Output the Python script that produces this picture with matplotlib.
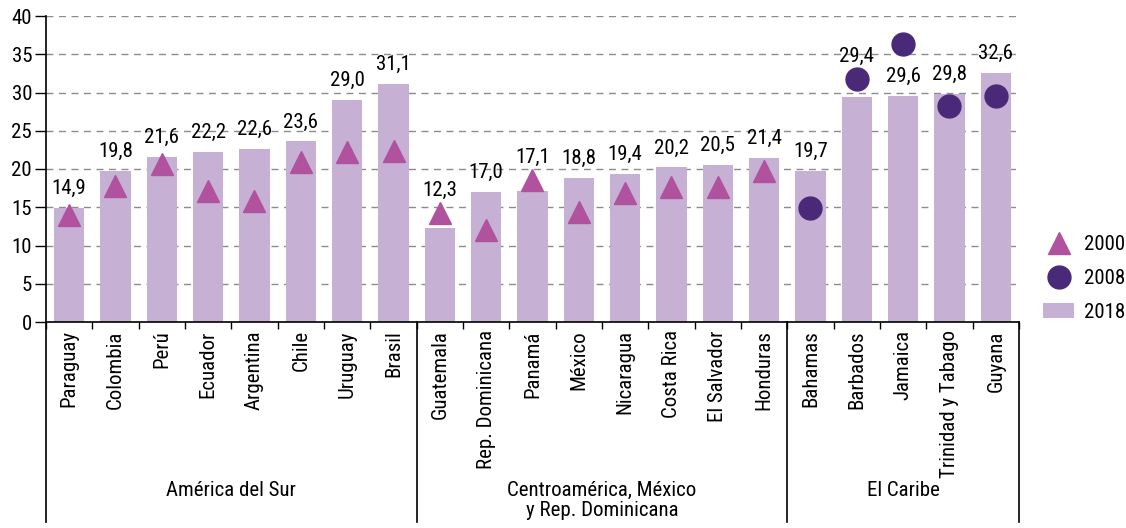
import matplotlib.pyplot as plt
from matplotlib.lines import Line2D
from matplotlib.patches import Patch
import matplotlib.transforms as mtransforms
import numpy as np

plt.rcParams['font.family'] = ['Roboto Condensed', 'Liberation Sans Narrow', 'Roboto', 'DejaVu Sans']

# Datos
paises = ["Paraguay", "Colombia", "Perú", "Ecuador", "Argentina", "Chile", "Uruguay", "Brasil",
          "Guatemala", "Rep. Dominicana", "Panamá", "México", "Nicaragua", "Costa Rica",
          "El Salvador", "Honduras",
          "Bahamas", "Barbados", "Jamaica", "Trinidad y Tabago", "Guyana"]
valores_2018 = [14.9, 19.8, 21.6, 22.2, 22.6, 23.6, 29.0, 31.1,
                12.3, 17.0, 17.1, 18.8, 19.4, 20.2, 20.5, 21.4,
                19.7, 29.4, 29.6, 29.8, 32.6]
# 2000 solo para América del Sur y Centroamérica
valores_2000 = [14.0, 17.8, 20.7, 17.1, 15.8, 20.9, 22.2, 22.4,
                14.2, 12.0, 18.5, 14.4, 16.9, 17.6, 17.6, 19.8,
                None, None, None, None, None]
# 2008 solo para El Caribe
valores_2008 = [None] * 16 + [14.9, 31.7, 36.4, 28.3, 29.5]
grupos = ["América del Sur", "Centroamérica, México\ny Rep. Dominicana", "El Caribe"]
tam_grupos = [8, 8, 5]

col_bar = "#c6b0d4"
col_tri = "#b0529e"
col_cir = "#4a2a78"
fs = 15

x = np.arange(len(paises))

fig = plt.figure(figsize=(11.26, 5.28), dpi=100)
ax = fig.add_axes([46 / 1126, 1 - 322 / 528, (1019 - 46) / 1126, 306 / 528])

ax.bar(x, valores_2018, width=0.65, color=col_bar, zorder=2)

x2000 = [xi for xi, v in zip(x, valores_2000) if v is not None]
y2000 = [v for v in valores_2000 if v is not None]
ax.plot(x2000, y2000, linestyle='none', marker='^', markersize=16, color=col_tri, zorder=3)
x2008 = [xi for xi, v in zip(x, valores_2008) if v is not None]
y2008 = [v for v in valores_2008 if v is not None]
ax.plot(x2008, y2008, linestyle='none', marker='o', markersize=16.5, color=col_cir, zorder=3)

# Etiquetas de valores 2018
pad, alto_txt, medio_mk = 1.3, 2.1, 1.45
for xi, v, a, b in zip(x, valores_2018, valores_2000, valores_2008):
    y = v + pad
    for m in (a, b):
        if m is not None and m - medio_mk < y + alto_txt and m + medio_mk > y:
            y = max(y, m + medio_mk + 0.3)
    ax.text(xi, y, f"{v:.1f}".replace(".", ","), ha='center', va='bottom',
            fontsize=fs, zorder=4)

ax.set_xlim(-0.5, len(paises) - 0.5)
ax.set_ylim(0, 40)
ax.set_yticks(np.arange(0, 41, 5))
ax.yaxis.grid(True, linestyle=(0, (5, 4)), color='#8c8c8c', linewidth=1, zorder=0)
ax.set_axisbelow(True)

ax.set_xticks(x)
ax.set_xticklabels(paises, rotation=90, va='top', ha='center')
ax.set_xticks(np.arange(-0.5, len(paises), 1), minor=True)
ax.tick_params(axis='x', which='major', length=0, pad=6, labelsize=fs)
ax.tick_params(axis='x', which='minor', length=5, width=1, direction='out')
ax.tick_params(axis='y', length=8, width=1, labelsize=fs, pad=2)

for s in ['top', 'right']:
    ax.spines[s].set_visible(False)
ax.spines['left'].set_linewidth(1.2)
ax.spines['bottom'].set_linewidth(1.2)

# Líneas de grupos y nombres
trans = mtransforms.blended_transform_factory(ax.transData, ax.transAxes)
y_fondo = -(522 - 322) / 306
inicio = -0.5
for nombre, n in zip(grupos, tam_grupos):
    ax.plot([inicio, inicio], [0, y_fondo], transform=trans, color='black',
            linewidth=1.2, clip_on=False)
    ax.text(inicio + n / 2, -(481 - 322) / 306, nombre, transform=trans,
            ha='center', va='top', fontsize=fs, linespacing=1.1)
    inicio += n
ax.plot([inicio, inicio], [0, y_fondo], transform=trans, color='black',
        linewidth=1.2, clip_on=False)

# Leyenda
handles = [Line2D([], [], linestyle='none', marker='^', markersize=16, color=col_tri),
           Line2D([], [], linestyle='none', marker='o', markersize=16.5, color=col_cir),
           Patch(facecolor=col_bar)]
fig.legend(handles, ["2000", "2008", "2018"], loc='upper left',
           bbox_to_anchor=(1043 / 1126, 1 - 235 / 528), frameon=False,
           borderpad=0, borderaxespad=0, fontsize=fs, handlelength=1.5,
           handleheight=0.75, handletextpad=0.45, labelspacing=0.72)

plt.savefig("out.png", dpi=100)
